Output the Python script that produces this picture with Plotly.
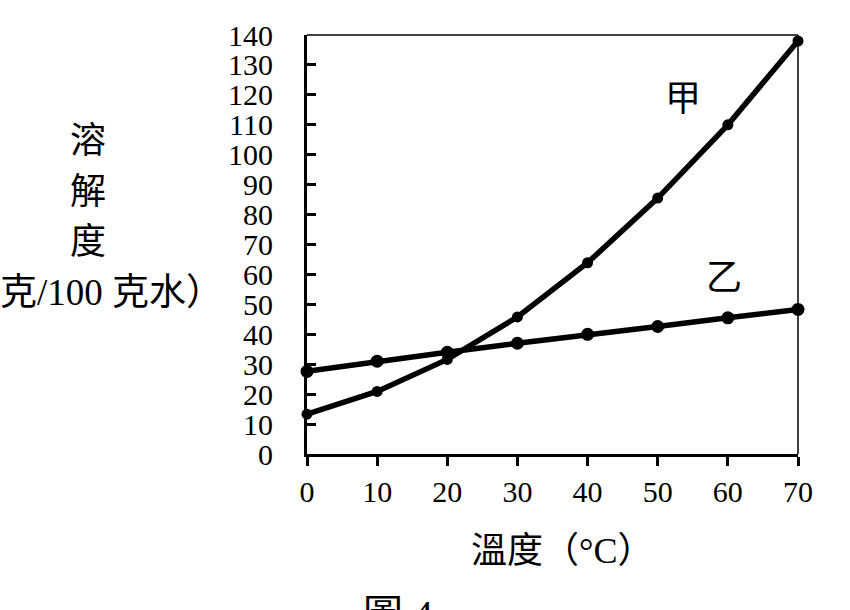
import plotly.graph_objects as go

temps = [0, 10, 20, 30, 40, 50, 60, 70]
jia = [13.3, 20.9, 31.6, 45.8, 63.9, 85.5, 110, 138]
yi = [27.6, 31.0, 34.0, 37.0, 40.0, 42.6, 45.5, 48.3]
x_ticks = [0, 10, 20, 30, 40, 50, 60, 70]
y_ticks = list(range(0, 141, 10))

W, H = 850, 610
L, R, T, B = 307, 52, 35, 156
pw, ph = W - L - R, H - T - B

def px(x):
    return (x - L) / pw

def py(y):
    return (H - B - y) / ph

SERIF = "Liberation Serif, Noto Sans CJK TC"

fig = go.Figure()
fig.add_trace(go.Scatter(x=temps, y=jia, mode="lines+markers",
                         line=dict(color="black", width=5.5),
                         marker=dict(color="black", size=11),
                         cliponaxis=False, showlegend=False))
fig.add_trace(go.Scatter(x=temps, y=yi, mode="lines+markers",
                         line=dict(color="black", width=5.5),
                         marker=dict(color="black", size=13),
                         cliponaxis=False, showlegend=False))

annotations = []
def ann(text, x, y, size=36, font=SERIF, xanchor="center", yanchor="middle"):
    annotations.append(dict(text=text, x=px(x), y=py(y), xref="paper", yref="paper",
                            showarrow=False, xanchor=xanchor, yanchor=yanchor,
                            font=dict(family=font, size=size, color="black")))

ann("溶", 88, 141)
ann("解", 88, 192)
ann("度", 88, 242)
ann("（克/100 克水）", 225, 292, size=37, xanchor="right")
ann("溫度（°C）", 562, 551)
ann("甲", 683, 99)
ann("乙", 724, 278)
ann("圖 4", 398, 590, size=40, yanchor="top")

fig.update_layout(
    width=W, height=H,
    margin=dict(l=L, r=R, t=T, b=B, pad=0),
    paper_bgcolor="white", plot_bgcolor="white",
    annotations=annotations,
    shapes=[dict(type="line", xref="paper", yref="paper", x0=0, x1=1, y0=1, y1=1,
                 line=dict(color="black", width=1.5)),
            dict(type="line", xref="paper", yref="paper", x0=1, x1=1, y0=0, y1=1,
                 line=dict(color="black", width=1.5))],
    xaxis=dict(range=[0, 70], tickvals=x_ticks, ticktext=[str(v) for v in x_ticks],
               showgrid=False, zeroline=False, showline=True, linecolor="black", linewidth=3,
               ticks="outside", ticklen=9, tickwidth=3, tickcolor="black",
               tickfont=dict(family=SERIF, size=30, color="black")),
    yaxis=dict(range=[0, 140], tickvals=y_ticks, ticktext=[str(v) for v in y_ticks],
               showgrid=False, zeroline=False, showline=True, linecolor="black", linewidth=3,
               ticks="inside", ticklen=9, tickwidth=3, tickcolor="black",
               ticklabelstandoff=25,
               tickfont=dict(family=SERIF, size=30, color="black")),
)

fig.write_html("out.html", config={"displayModeBar": False},
               post_script="document.body.style.margin='0';document.body.style.overflow='hidden';")
